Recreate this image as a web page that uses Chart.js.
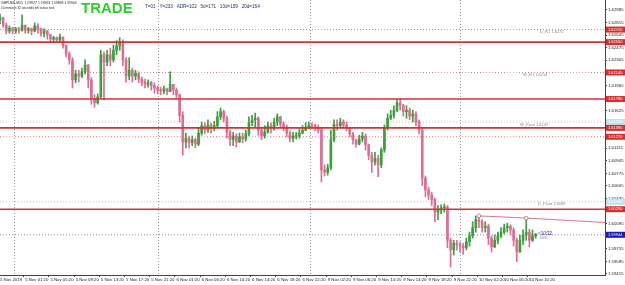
<!DOCTYPE html>
<html><head><meta charset="utf-8">
<script src="https://cdn.jsdelivr.net/npm/chart.js@4/dist/chart.umd.min.js"></script>
<style>html,body{margin:0;padding:0;background:#fff;overflow:hidden}canvas{display:block}</style>
</head><body>
<canvas id="c" width="625" height="285" style="width:625px;height:285px"></canvas>
<script>
// ---- data (GBPUSD M15) ----
const opens = [
1.6285,1.6288,1.6278,1.6270,1.6274,1.6270,1.6273,1.6271,1.6278,1.6271,
1.6273,1.6270,1.6277,1.6273,1.6267,1.6270,1.6265,1.6259,1.6261,1.6258,
1.6262,1.6250,1.6239,1.6231,1.6204,1.6212,1.6209,1.6215,1.6224,1.6204,
1.6179,1.6173,1.6181,1.6238,1.6228,1.6238,1.6231,1.6244,1.6250,1.6255,
1.6231,1.6209,1.6217,1.6209,1.6213,1.6205,1.6201,1.6198,1.6200,1.6196,
1.6193,1.6190,1.6189,1.6192,1.6188,1.6198,1.6190,1.6184,1.6156,1.6120,
1.6125,1.6119,1.6123,1.6117,1.6132,1.6142,1.6136,1.6143,1.6138,1.6142,
1.6154,1.6161,1.6152,1.6133,1.6123,1.6128,1.6120,1.6127,1.6124,1.6131,
1.6146,1.6150,1.6152,1.6136,1.6128,1.6133,1.6142,1.6139,1.6147,1.6154,
1.6144,1.6140,1.6132,1.6125,1.6128,1.6129,1.6132,1.6136,1.6140,1.6143,
1.6142,1.6139,1.6136,1.6082,1.6079,1.6085,1.6123,1.6144,1.6142,1.6147,
1.6143,1.6139,1.6131,1.6123,1.6117,1.6124,1.6128,1.6116,1.6102,1.6093,
1.6098,1.6089,1.6109,1.6139,1.6152,1.6156,1.6163,1.6173,1.6169,1.6161,
1.6163,1.6155,1.6158,1.6147,1.6136,1.6071,1.6055,1.6048,1.6042,1.6025,
1.6028,1.6031,1.6032,1.5987,1.5974,1.5983,1.5981,1.5979,1.5977,1.5985,
1.5993,1.6004,1.6015,1.6012,1.6004,1.6006,1.5990,1.5978,1.5987,1.5993,
1.5998,1.6004,1.6006,1.6001,1.5987,1.5971,1.5987,1.5994,1.5998,1.5987,
1.59927];
const highs = [
1.6293,1.6289,1.6281,1.6277,1.6275,1.6275,1.6275,1.6292,1.6278,1.6275,
1.6274,1.6281,1.6280,1.6274,1.6273,1.6271,1.6266,1.6263,1.6262,1.6266,
1.6262,1.6251,1.6242,1.6234,1.6217,1.6217,1.6220,1.6231,1.6225,1.6207,
1.6184,1.6185,1.6244,1.6242,1.6244,1.6247,1.6251,1.6257,1.6261,1.6258,
1.6234,1.6234,1.6220,1.6217,1.6215,1.6208,1.6205,1.6204,1.6202,1.6200,
1.6196,1.6194,1.6196,1.6193,1.6215,1.6198,1.6193,1.6185,1.6161,1.6132,
1.6128,1.6128,1.6125,1.6139,1.6147,1.6146,1.6150,1.6146,1.6148,1.6161,
1.6166,1.6163,1.6155,1.6136,1.6133,1.6131,1.6132,1.6132,1.6136,1.6154,
1.6156,1.6159,1.6154,1.6140,1.6142,1.6147,1.6146,1.6152,1.6158,1.6155,
1.6147,1.6143,1.6135,1.6133,1.6133,1.6138,1.6142,1.6146,1.6147,1.6146,
1.6144,1.6143,1.6139,1.6089,1.6090,1.6136,1.6150,1.6150,1.6152,1.6150,
1.6147,1.6140,1.6133,1.6124,1.6129,1.6133,1.6131,1.6117,1.6106,1.6106,
1.6102,1.6112,1.6143,1.6158,1.6163,1.6169,1.6178,1.6179,1.6171,1.6169,
1.6166,1.6163,1.6161,1.6150,1.6139,1.6074,1.6059,1.6052,1.6044,1.6034,
1.6035,1.6036,1.6034,1.5990,1.5987,1.5987,1.5985,1.5983,1.5990,1.5998,
1.6012,1.6020,1.6020,1.6015,1.6012,1.6009,1.5993,1.5994,1.5998,1.6004,
1.6009,1.6010,1.6008,1.6004,1.5990,1.5994,1.6001,1.6017,1.6002,1.6001,
1.59963];
const lows = [
1.6280,1.6275,1.6266,1.6267,1.6266,1.6267,1.6267,1.6270,1.6267,1.6267,
1.6265,1.6269,1.6267,1.6263,1.6262,1.6259,1.6255,1.6255,1.6255,1.6255,
1.6247,1.6235,1.6225,1.6193,1.6200,1.6201,1.6207,1.6212,1.6193,1.6171,
1.6167,1.6171,1.6179,1.6177,1.6223,1.6223,1.6228,1.6238,1.6244,1.6223,
1.6201,1.6204,1.6201,1.6204,1.6200,1.6196,1.6193,1.6194,1.6190,1.6186,
1.6185,1.6184,1.6185,1.6184,1.6188,1.6184,1.6179,1.6147,1.6102,1.6112,
1.6112,1.6115,1.6112,1.6115,1.6129,1.6131,1.6133,1.6132,1.6135,1.6139,
1.6150,1.6147,1.6125,1.6115,1.6115,1.6113,1.6119,1.6119,1.6121,1.6128,
1.6142,1.6140,1.6129,1.6123,1.6125,1.6132,1.6132,1.6136,1.6142,1.6139,
1.6135,1.6127,1.6120,1.6120,1.6124,1.6125,1.6131,1.6135,1.6138,1.6138,
1.6135,1.6132,1.6066,1.6074,1.6075,1.6082,1.6120,1.6136,1.6139,1.6138,
1.6135,1.6127,1.6117,1.6113,1.6116,1.6120,1.6109,1.6096,1.6079,1.6089,
1.6073,1.6085,1.6106,1.6136,1.6150,1.6152,1.6161,1.6163,1.6155,1.6152,
1.6150,1.6147,1.6142,1.6131,1.6061,1.6046,1.6042,1.6034,1.6012,1.6015,
1.6023,1.6025,1.5977,1.5951,1.5967,1.5974,1.5971,1.5968,1.5974,1.5979,
1.5990,1.5998,1.6004,1.5998,1.5998,1.5981,1.5971,1.5977,1.5982,1.5990,
1.5996,1.5998,1.5994,1.5979,1.5958,1.5971,1.5981,1.5987,1.5978,1.5985,
1.59898];
const closes = [
1.6288,1.6278,1.6270,1.6274,1.6270,1.6273,1.6271,1.6278,1.6271,1.6273,
1.6270,1.6277,1.6273,1.6267,1.6270,1.6265,1.6259,1.6261,1.6258,1.6262,
1.6250,1.6239,1.6231,1.6204,1.6212,1.6209,1.6215,1.6224,1.6204,1.6179,
1.6173,1.6181,1.6238,1.6228,1.6238,1.6231,1.6244,1.6250,1.6255,1.6231,
1.6209,1.6217,1.6209,1.6213,1.6205,1.6201,1.6198,1.6200,1.6196,1.6193,
1.6190,1.6189,1.6192,1.6188,1.6198,1.6190,1.6184,1.6156,1.6120,1.6125,
1.6119,1.6123,1.6117,1.6132,1.6142,1.6136,1.6143,1.6138,1.6142,1.6154,
1.6161,1.6152,1.6133,1.6123,1.6128,1.6120,1.6127,1.6124,1.6131,1.6146,
1.6150,1.6152,1.6136,1.6128,1.6133,1.6142,1.6139,1.6147,1.6154,1.6144,
1.6140,1.6132,1.6125,1.6128,1.6129,1.6132,1.6136,1.6140,1.6143,1.6142,
1.6139,1.6136,1.6082,1.6079,1.6085,1.6123,1.6144,1.6142,1.6147,1.6143,
1.6139,1.6131,1.6123,1.6117,1.6124,1.6128,1.6116,1.6102,1.6093,1.6098,
1.6089,1.6109,1.6139,1.6152,1.6156,1.6163,1.6173,1.6169,1.6161,1.6163,
1.6155,1.6158,1.6147,1.6136,1.6071,1.6055,1.6048,1.6042,1.6025,1.6028,
1.6031,1.6032,1.5987,1.5974,1.5983,1.5981,1.5979,1.5977,1.5985,1.5993,
1.6004,1.6015,1.6012,1.6004,1.6006,1.5990,1.5978,1.5987,1.5993,1.5998,
1.6004,1.6006,1.6001,1.5987,1.5971,1.5987,1.5994,1.5998,1.5987,1.5993,
1.59944];
const timeTickLabels = ['5 Nov 2019','5 Nov 01:20','5 Nov 05:20','5 Nov 09:20','5 Nov 13:20','5 Nov 17:20','5 Nov 21:20',
  '6 Nov 01:20','6 Nov 06:20','6 Nov 10:20','6 Nov 14:20','6 Nov 18:20','6 Nov 22:20','9 Nov 02:20','9 Nov 06:20',
  '9 Nov 10:20','9 Nov 14:20','9 Nov 18:20','9 Nov 22:20','10 Nov 02:20','10 Nov 06:20','10 Nov 10:20'];
const priceTicks = [1.62985,1.62815,1.62645,1.62475,1.62305,1.62135,1.61965,1.61795,1.61625,1.61455,1.61285,
  1.61115,1.60945,1.60775,1.60605,1.60435,1.60265,1.60095,1.59925,1.59755,1.59585,1.59415];
const levelNames  = ['D_R1','','W_R1','','W_Pivot','','','D_Pivot','','Bid'];
const levelValues = [1.6272,1.6255,1.6214,1.6178,1.6147,1.6139,1.6127,1.6039,1.6029,1.59944];
const trendIdx  = [152,167,192];
const trendVals = [1.6020,1.6017,1.6011];
const separatorIdx = [4.5,50,98.5,146];
const headerLine1 = 'GBPUSD,M15  1.59927 1.59963 1.59898 1.59944';
const headerLine2 = '10 minutes 32 seconds left to bar end';
const headerStats = 'T=01   Y=233   ADR=102   5d=171   10d=159   20d=164';

// ---- build ----
const N = 193, STEP = 8;
const categories = Array.from({length:N},(_,i)=> (i%STEP===0 && i/STEP<timeTickLabels.length) ? timeTickLabels[i/STEP] : '');
const BULL='#3e9e3e', BEAR='#dc6e94';
const cols = closes.map((c,i)=> c>=opens[i] ? BULL : BEAR);
const FONT='"Liberation Sans", Arial, sans-serif';
Chart.defaults.font.family = FONT;

// level styles (not data)
const lvStyle = [
 {c:'#b98a8a',w:1,d:[1,2],box:'#d43030',tx:540},
 {c:'#cf3535',w:1.6,d:[],box:'#d43030'},
 {c:'#b98a8a',w:1,d:[1,2],box:'#d43030',tx:523},
 {c:'#cf3535',w:1.6,d:[],box:'#d43030'},
 {c:'#d8b0c0',w:1,d:[1,2],box:'#bfe2ee',tx:520},
 {c:'#cf3535',w:1.6,d:[],box:'#d43030'},
 {c:'#e0708a',w:1,d:[1,2],box:'#d43030'},
 {c:'#a8cadb',w:1,d:[1,2],box:'#bfe2ee',tx:538},
 {c:'#cf3535',w:1.6,d:[],box:'#d43030'},
 {c:'#7f8fb5',w:1,d:[1,2],box:'#1a1ab0'}
];
const levelSets = levelValues.map((v,k)=>({
  type:'line', data:new Array(N).fill(v), borderColor:lvStyle[k].c, borderWidth:lvStyle[k].w,
  borderDash:lvStyle[k].d, pointRadius:0, order: lvStyle[k].d.length ? 5 : 1, spanGaps:true
}));
const trendData = new Array(N).fill(null);
trendIdx.forEach((ix,k)=>{trendData[ix]=trendVals[k];});
const trendSet = {type:'line', data:trendData, spanGaps:true, borderColor:'#d4788a', borderWidth:1,
  pointRadius:(c)=> (c.dataIndex===152||c.dataIndex===167)?1.8:0, pointBackgroundColor:'#fff',
  pointBorderColor:'#c8607a', pointBorderWidth:0.8, order:0};

const overlay = {
  id:'overlay',
  beforeDatasetsDraw(chart){
    const {ctx, chartArea:a, scales:{x}} = chart;
    ctx.save();
    ctx.strokeStyle='#9a9a9a'; ctx.lineWidth=1; ctx.setLineDash([1,2]);
    separatorIdx.forEach(ix=>{
      const px = Math.round(x.getPixelForDecimal(ix/(N-1)))+0.5;
      ctx.beginPath(); ctx.moveTo(px,a.top); ctx.lineTo(px,a.bottom); ctx.stroke();
    });
    ctx.restore();
  },
  afterDraw(chart){
    const {ctx, chartArea:a, scales:{y}} = chart;
    ctx.save();
    // level captions in plot
    ctx.font='4px '+FONT; ctx.fillStyle='#8c8080'; ctx.textBaseline='middle';
    levelValues.forEach((v,k)=>{
      if(lvStyle[k].tx && levelNames[k]){
        ctx.fillText(levelNames[k]+' '+v.toFixed(4), lvStyle[k].tx, y.getPixelForValue(v)+2.5);
      }
    });
    // countdown near bid
    const by = y.getPixelForValue(levelValues[9]);
    ctx.fillStyle='#1a1a8a'; ctx.font='4.5px '+FONT;
    ctx.fillText('<10:32', 538, by-1.5);
    ctx.fillStyle='#888'; ctx.font='3.5px '+FONT;
    ctx.fillText('0054', 540, by+3);
    // axis price boxes
    ctx.font='4px '+FONT; ctx.textBaseline='middle';
    levelValues.forEach((v,k)=>{
      const py = y.getPixelForValue(v);
      ctx.fillStyle=lvStyle[k].box; ctx.fillRect(a.right+1, py-3, 19, 6);
      ctx.fillStyle = lvStyle[k].box==='#bfe2ee' ? '#fff' : '#fff';
      ctx.fillText(v.toFixed(5), a.right+3, py);
    });
    // header
    ctx.textBaseline='alphabetic';
    ctx.fillStyle='#222'; ctx.font='3.4px '+FONT;
    ctx.fillText(headerLine1, 1, 4);
    ctx.font='3.2px '+FONT;
    ctx.fillText(headerLine2, 1, 8.5);
    ctx.fillStyle='#2ccf2c'; ctx.font='bold 15px '+FONT;
    ctx.fillText('TRADE', 81, 12.5);
    ctx.fillStyle='#1c2a5a'; ctx.font='4.6px '+FONT;
    ctx.fillText(headerStats, 145, 8);
    ctx.restore();
  }
};

new Chart(document.getElementById('c'), {
  type:'bar',
  data:{
    labels:categories,
    datasets:[
      trendSet,
      ...levelSets,
      {type:'bar', data:opens.map((o,i)=>[o,closes[i]]), backgroundColor:cols, borderWidth:0,
       barThickness:2, grouped:false, minBarLength:1, order:3},
      {type:'bar', data:lows.map((l,i)=>[l,highs[i]]), backgroundColor:cols, borderWidth:0,
       barThickness:1, grouped:false, order:4}
    ]
  },
  options:{
    responsive:false, animation:false, devicePixelRatio:1,
    layout:{padding:0},
    plugins:{legend:{display:false}, tooltip:{enabled:false}},
    scales:{
      x:{ type:'category', offset:false,
        grid:{display:true, drawOnChartArea:false, tickLength:2, tickColor:(c)=> categories[c.index] ? '#444' : 'rgba(0,0,0,0)'},
        border:{display:true, color:'#444'},
        ticks:{autoSkip:false, maxRotation:0, minRotation:0, align:'start', padding:0, color:'#222', font:{size:4.3, family:FONT}},
        afterFit(s){ s.height=10; s.paddingLeft=0; s.paddingRight=0; }
      },
      y:{ position:'right', min:1.5940, max:1.6312,
        afterBuildTicks(s){ s.ticks = priceTicks.map(v=>({value:v})); },
        grid:{display:true, drawOnChartArea:false, tickLength:2, tickColor:'#444'},
        border:{display:true, color:'#444'},
        ticks:{callback:(v)=>Number(v).toFixed(5), padding:1, color:'#222', font:{size:4.3, family:FONT}},
        afterFit(s){ s.width=20; s.paddingTop=0; s.paddingBottom=0; }
      }
    }
  },
  plugins:[overlay]
});
</script>
</body></html>
